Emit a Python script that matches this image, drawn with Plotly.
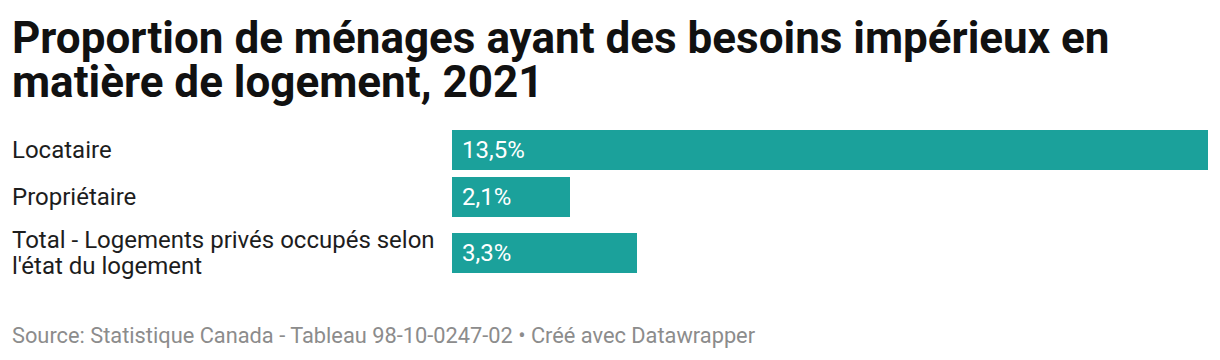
import plotly.graph_objects as go

# ---- data ----
categories = ["Locataire", "Propriétaire", "Total - Logements privés occupés selon<br>l'état du logement"]
values = [13.5, 2.1, 3.3]

title_lines = ["Proportion de ménages ayant des besoins impérieux en", "matière de logement, 2021"]
footer_text = "Source: Statistique Canada - Tableau 98-10-0247-02 • Créé avec Datawrapper"

# ---- layout parameters ----
W, H = 1220, 360
ML, MR, MT, MB = 452, 12, 130, 87
BAR_COLOR = "#1ba19b"
FONT = "Roboto"
ROW_HALF = {1: 23.75, 2: 32.25}   # half row height by number of label lines
BAR_W = 40
LABEL_LINE = 26
plot_h = H - MT - MB


def py(Y):
    """pixel row (from top) -> paper y"""
    return (H - MB - Y) / plot_h


# row centres derived from label line counts
centers = []
pos = 0.0
prev_half = None
for c in categories:
    half = ROW_HALF[c.count("<br>") + 1]
    if prev_half is not None:
        pos += prev_half + half
    centers.append(pos)
    prev_half = half

fig = go.Figure()
fig.add_trace(go.Bar(
    x=values, y=centers, orientation="h", width=BAR_W,
    marker=dict(color=BAR_COLOR, line=dict(width=0)),
    hoverinfo="skip",
))

annotations = []
for c, v, yc in zip(categories, values, centers):
    lines = c.split("<br>")
    n = len(lines)
    for i, ln in enumerate(lines):
        annotations.append(dict(
            x=0, y=yc, xref="x", yref="y", xanchor="left", yanchor="middle",
            xshift=-(ML - 10), yshift=-(i - (n - 1) / 2) * LABEL_LINE,
            text=ln, showarrow=False, align="left",
            font=dict(family=FONT, size=24, color="#1d1d1d"),
        ))
    annotations.append(dict(
        x=0, y=yc, xref="x", yref="y", xanchor="left", yanchor="middle",
        xshift=8, text=f"{v:.1f}%".replace(".", ","), showarrow=False,
        font=dict(family=FONT, size=24, color="#ffffff"),
    ))

for i, t in enumerate(title_lines):
    annotations.append(dict(
        x=0, y=py(38 + 44 * i), xref="paper", yref="paper", xanchor="left", yanchor="middle",
        xshift=-(ML - 10), text=f"<b>{t}</b>", showarrow=False,
        font=dict(family=FONT, size=44, color="#111111"),
    ))

annotations.append(dict(
    x=0, y=py(335), xref="paper", yref="paper", xanchor="left", yanchor="middle",
    xshift=-(ML - 10), text=footer_text, showarrow=False,
    font=dict(family=FONT, size=21.8, color="#8c8c8c"),
))

fig.update_layout(
    width=W, height=H,
    margin=dict(l=ML, r=MR, t=MT, b=MB),
    paper_bgcolor="white", plot_bgcolor="white",
    showlegend=False,
    bargap=0,
    xaxis=dict(range=[0, max(values)], visible=False, fixedrange=True),
    yaxis=dict(range=[centers[-1] + BAR_W / 2, centers[0] - BAR_W / 2], visible=False, fixedrange=True),
    annotations=annotations,
)

fig.write_html("out.html", config={"displayModeBar": False},
               post_script="document.body.style.margin='0';")
